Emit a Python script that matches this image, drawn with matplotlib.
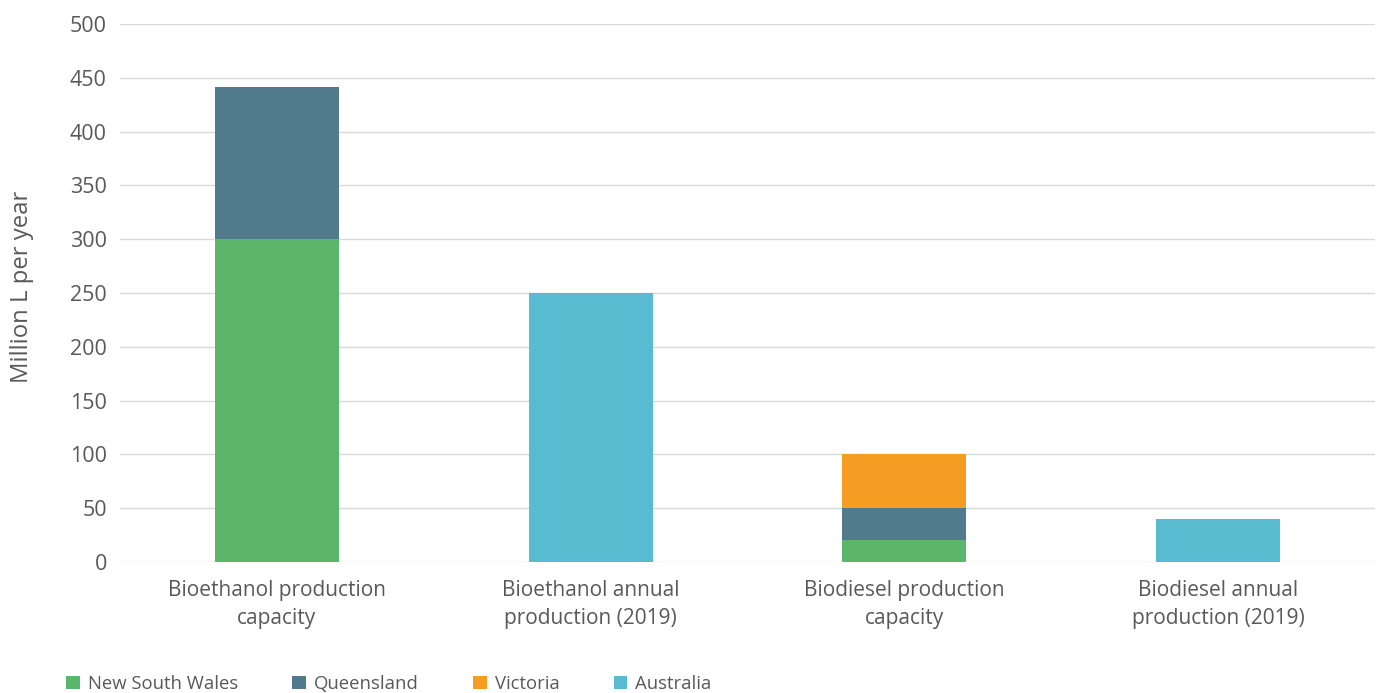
import matplotlib.pyplot as plt
import numpy as np

plt.rcParams['font.family'] = ['Open Sans', 'DejaVu Sans']

categories = ['Bioethanol production\ncapacity', 'Bioethanol annual\nproduction (2019)',
              'Biodiesel production\ncapacity', 'Biodiesel annual\nproduction (2019)']
series = ['New South Wales', 'Queensland', 'Victoria', 'Australia']
nsw = [300, 0, 20, 0]
qld = [141, 0, 30, 0]
vic = [0, 0, 50, 0]
aus = [0, 250, 0, 40]
colors = ['#5BB56B', '#517A8C', '#F59D23', '#59BBD0']
grey = '#595959'

fig = plt.figure(figsize=(13.82, 6.93), dpi=100)
ax = fig.add_axes([120/1382, 1 - 562/693, 1255/1382, 538/693])

x = np.arange(len(categories))
bottom = np.zeros(len(categories))
for name, vals, c in zip(series, [nsw, qld, vic, aus], colors):
    ax.bar(x, vals, 0.395, bottom=bottom, color=c, label=name, zorder=3)
    bottom += np.array(vals)

ax.set_xlim(-0.5, 3.5)
ax.set_ylim(0, 500)
ax.set_yticks(range(0, 501, 50))
ax.set_xticks(x)
ax.set_xticklabels(categories, fontsize=15, color=grey, linespacing=1.42)
ax.tick_params(axis='y', labelsize=15.5, labelcolor=grey, length=0, pad=9.5)
ax.tick_params(axis='x', length=0, pad=13)
ax.grid(axis='y', color='#D9D9D9', linewidth=1, zorder=0)
for s in ax.spines.values():
    s.set_visible(False)

fig.text(22/1382, 1 - 287/693, 'Million L per year', rotation=90, ha='center', va='center',
         fontsize=17.2, color=grey)

fig.legend(*ax.get_legend_handles_labels(), loc='center left',
           bbox_to_anchor=(66/1382, 1 - 684/693), ncol=4, frameon=False, borderpad=0,
           borderaxespad=0, fontsize=13.3, labelcolor=grey, handlelength=0.75,
           handleheight=0.75, handletextpad=0.43, columnspacing=2.93)

fig.savefig('out.png', dpi=100)
